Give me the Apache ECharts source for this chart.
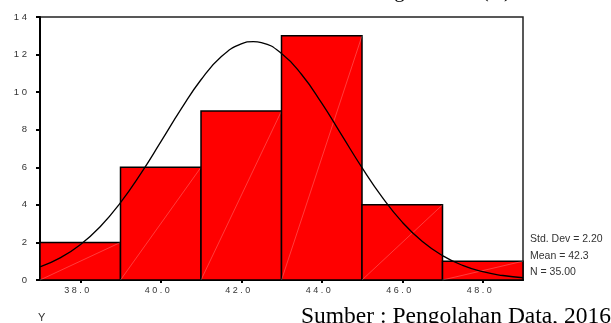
<!DOCTYPE html>
<html>
<head>
<meta charset="utf-8">
<script src="https://cdn.jsdelivr.net/npm/echarts@6/dist/echarts.min.js"></script>
<style>
  html, body { margin: 0; padding: 0; background: #fff; }
  #chart { width: 611px; height: 323px; }
</style>
</head>
<body>
<div id="chart"></div>
<script>
// histogram bins (lower edge, upper edge) and frequencies
const binStart = [37, 39, 41, 43, 45, 47];
const binEnd = [39, 41, 43, 45, 47, 49];
const counts = [2, 6, 9, 13, 4, 1];

// tick positions on the x axis (bin midpoints)
const xTicks = [38, 40, 42, 44, 46, 48];

// normal curve
const curveX = [37, 37.5, 38, 38.5, 39, 39.5, 40, 40.5, 41, 41.5, 42, 42.3, 42.5, 43, 43.5, 44, 44.5, 45, 45.5, 46, 46.5, 47, 47.5, 48, 48.5, 49];
const curveY = [0.7, 1.18, 1.88, 2.85, 4.12, 5.65, 7.35, 9.08, 10.66, 11.88, 12.57, 12.69, 12.64, 12.06, 10.94, 9.41, 7.7, 5.98, 4.41, 3.08, 2.05, 1.3, 0.78, 0.44, 0.24, 0.12];

const stats = ["Std. Dev = 2.20", "Mean = 42.3", "N = 35.00"];

const spaced = s => String(s).split("").join(" ");

const chart = echarts.init(document.getElementById("chart"), null, { renderer: "canvas" });

const bars = binStart.map((s, i) => [s, binEnd[i], counts[i]]);

const option = {
  animation: false,
  backgroundColor: "#fff",
  grid: { left: 40, top: 17, right: 88, bottom: 43, show: true, borderColor: "#222", borderWidth: 1.5 },
  xAxis: {
    type: "value",
    min: 37,
    max: 49,
    axisLine: { show: true, lineStyle: { color: "#000", width: 2 } },
    axisTick: { show: true, customValues: xTicks, length: 3, lineStyle: { color: "#000", width: 2 } },
    axisLabel: {
      customValues: xTicks,
      formatter: v => spaced(v.toFixed(1)),
      color: "#333",
      fontFamily: "Liberation Sans",
      fontSize: 9,
      margin: 6,
      padding: [0, 7, 0, 0]
    },
    splitLine: { show: false }
  },
  yAxis: {
    type: "value",
    min: 0,
    max: 14,
    interval: 2,
    axisLine: { show: true, lineStyle: { color: "#000", width: 2 } },
    axisTick: { show: true, length: 4, lineStyle: { color: "#000", width: 2 } },
    axisLabel: {
      formatter: v => spaced(v),
      color: "#333",
      fontFamily: "Liberation Sans",
      fontSize: 9.5,
      margin: 13
    },
    splitLine: { show: false }
  },
  series: [
    {
      type: "custom",
      data: bars,
      encode: { x: [0, 1], y: 2 },
      renderItem: (params, api) => {
        const p0 = api.coord([api.value(0), 0]);
        const p1 = api.coord([api.value(1), api.value(2)]);
        return {
          type: "group",
          children: [
            {
              type: "rect",
              shape: { x: p0[0], y: p1[1], width: p1[0] - p0[0], height: p0[1] - p1[1] },
              style: { fill: "#ff0000", stroke: "#000", lineWidth: 1.5 }
            },
            {
              type: "line",
              shape: { x1: p0[0], y1: p0[1], x2: p1[0], y2: p1[1] },
              style: { stroke: "rgba(255,255,255,0.4)", lineWidth: 0.6 }
            }
          ]
        };
      },
      z: 2
    },
    {
      type: "line",
      data: curveX.map((x, i) => [x, curveY[i]]),
      symbol: "none",
      smooth: true,
      lineStyle: { color: "#000", width: 1.3 },
      z: 3
    }
  ],
  graphic: [
    {
      type: "text",
      left: 530,
      top: 231,
      style: { text: stats.join("\n"), lineHeight: 16.5, fill: "#333", font: "10.5px Liberation Sans" }
    },
    {
      type: "text",
      left: 38,
      top: 312,
      style: { text: "Y", fill: "#333", font: "11px Liberation Sans" }
    },
    {
      type: "text",
      right: 100,
      top: -19.5,
      style: { text: "Harga Saham (Y)", fill: "#000", font: "21px Liberation Serif" }
    },
    {
      type: "text",
      left: 301,
      top: 305,
      style: { text: "Sumber : Pengolahan Data, 2016", fill: "#000", font: "23.5px Liberation Serif" }
    }
  ]
};

chart.setOption(option);
</script>
</body>
</html>
